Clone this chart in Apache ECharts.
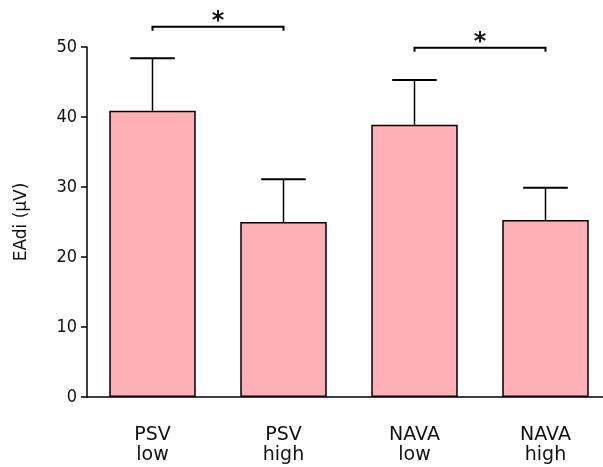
<!DOCTYPE html>
<html><head><meta charset="utf-8">
<script src="https://cdn.jsdelivr.net/npm/echarts@6/dist/echarts.min.js"></script>
<style>html,body{margin:0;padding:0;background:#fff}#c{width:603px;height:467px}</style>
</head><body><div id="c"></div>
<script>
const categories = ['PSV\nlow', 'PSV\nhigh', 'NAVA\nlow', 'NAVA\nhigh'];
const means = [40.9, 25.0, 38.9, 25.3];
const errorTops = [48.4, 31.1, 45.3, 29.9];
const yTicks = [0, 10, 20, 30, 40, 50];
// significance brackets: [fromIndex, toIndex, level]
const brackets = [[0, 1, 52.9], [2, 3, 49.9]];

const FONT = '"Liberation Sans Narrow", "DejaVu Sans Condensed", "Roboto", sans-serif';
const chart = echarts.init(document.getElementById('c'));
chart.setOption({
  animation: false,
  grid: {left: 87, width: 524, top: 47, height: 350, outerBoundsMode: 'none', containLabel: false},
  xAxis: {
    type: 'category', data: categories,
    axisLine: {lineStyle: {color: '#000', width: 1.5}},
    axisTick: {alignWithLabel: true, length: 6, lineStyle: {color: '#000', width: 1.5}},
    axisLabel: {color: '#111', fontSize: 19, lineHeight: 20, margin: 28, fontFamily: 'DejaVu Sans'}
  },
  yAxis: {
    type: 'value', min: 0, max: 50, interval: 10,
    name: 'EAdi (µV)', nameLocation: 'middle', nameGap: 57, nameRotate: 90,
    nameTextStyle: {color: '#111', fontSize: 17, fontFamily: 'DejaVu Sans'},
    splitLine: {show: false},
    axisLine: {show: true, lineStyle: {color: '#000', width: 1.5}},
    axisTick: {show: true, length: 6, lineStyle: {color: '#000', width: 1.5}},
    axisLabel: {color: '#111', fontSize: 18, margin: 10, fontFamily: FONT,
      formatter: v => yTicks.includes(v) ? String(v) : ''}
  },
  series: [
    {
      type: 'bar', data: means, barWidth: '66%',
      itemStyle: {color: '#FFB0B6', borderColor: '#000', borderWidth: 1.5}
    },
    {
      type: 'custom', clip: false, z: 1,
      data: means.map((m, i) => [i, m, errorTops[i]]),
      renderItem: (params, api) => {
        const base = api.coord([api.value(0), api.value(1)]);
        const top = api.coord([api.value(0), api.value(2)]);
        const half = api.size([1, 0])[0] * 0.17;
        return {type: 'group', children: [
          {type: 'line', shape: {x1: base[0], y1: base[1], x2: top[0], y2: top[1]}, style: {stroke: '#000', lineWidth: 1.5}},
          {type: 'line', shape: {x1: top[0] - half, y1: top[1], x2: top[0] + half, y2: top[1]}, style: {stroke: '#000', lineWidth: 2}}
        ]};
      }
    },
    {
      type: 'custom', clip: false, z: 3,
      data: brackets,
      renderItem: (params, api) => {
        const a = api.coord([api.value(0), api.value(2)]);
        const b = api.coord([api.value(1), api.value(2)]);
        return {type: 'group', children: [
          {type: 'polyline', shape: {points: [[a[0], a[1] + 4], [a[0], a[1]], [b[0], b[1]], [b[0], b[1] + 4]]},
            style: {stroke: '#000', lineWidth: 2, fill: null}},
          {type: 'text', style: {text: '*', x: (a[0] + b[0]) / 2, y: a[1] - 5, align: 'center', verticalAlign: 'middle',
            font: 'bold 24px DejaVu Sans', fill: '#111'}}
        ]};
      }
    }
  ]
});
</script></body></html>
